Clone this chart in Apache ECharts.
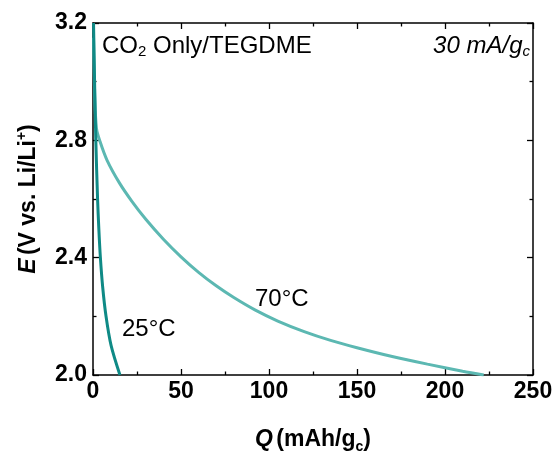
<!DOCTYPE html>
<html>
<head>
<meta charset="utf-8">
<script src="https://cdn.jsdelivr.net/npm/echarts@6/dist/echarts.min.js"></script>
<style>
  html, body { margin: 0; padding: 0; background: #fff; }
  #chart { width: 556px; height: 452px; }
</style>
</head>
<body>
<div id="chart"></div>
<script>
// 数据
const q25 = [0.3, 0.9, 1.6, 2.6, 3.3, 4.2, 5.5, 7.4, 10.3, 15.3];
const e25 = [3.2, 3.0, 2.8, 2.6, 2.5, 2.4, 2.3, 2.2, 2.1, 2.0];
const q70 = [0.3, 1.0, 2.0, 4.0, 8, 15, 22, 30, 40, 50, 60, 70, 80, 92, 105, 120, 135, 150, 170, 190, 210, 222];
const e70 = [3.15, 2.95, 2.84, 2.796, 2.732, 2.655, 2.593, 2.531, 2.463, 2.403, 2.35, 2.304, 2.264, 2.222, 2.184, 2.148, 2.118, 2.093, 2.063, 2.037, 2.013, 2.0];
const xTicks = [0, 50, 100, 150, 200, 250];
const yTicks = [2.0, 2.4, 2.8, 3.2];

const font = 'Liberation Sans, Arial, sans-serif';
const toPairs = (xs, ys) => xs.map((x, i) => [x, ys[i]]);

const chart = echarts.init(document.getElementById('chart'));

const axisLine = { show: true, onZero: false, lineStyle: { color: '#000', width: 1.5 } };
const tickIn = { show: true, inside: true, length: 6, lineStyle: { color: '#000', width: 1.3 } };
const minorIn = { show: true, splitNumber: 2, length: 3.5, lineStyle: { color: '#000', width: 1.3 } };

chart.setOption({
  animation: false,
  grid: { left: 93, right: 23, top: 23, bottom: 77, outerBoundsMode: 'none' },
  xAxis: [
    {
      type: 'value', min: xTicks[0], max: xTicks[xTicks.length - 1], interval: 50,
      axisLine, axisTick: tickIn, minorTick: minorIn, splitLine: { show: false },
      axisLabel: { color: '#000', fontFamily: font, fontWeight: 'bold', fontSize: 23, margin: 5 },
      name: '{i|Q} {b|(mAh/g}{s|c}{b|)}',
      nameLocation: 'middle', nameGap: 51,
      nameTextStyle: {
        rich: {
          i: { fontFamily: font, fontWeight: 'bold', fontStyle: 'italic', fontSize: 23, color: '#000', lineHeight: 28 },
          b: { fontFamily: font, fontWeight: 'bold', fontSize: 23, color: '#000', lineHeight: 28 },
          s: { fontFamily: font, fontWeight: 'bold', fontSize: 14, color: '#000', lineHeight: 14, verticalAlign: 'bottom' }
        }
      }
    },
    {
      type: 'value', position: 'top', min: 0, max: 250, interval: 50,
      axisLine, axisTick: tickIn, minorTick: minorIn, splitLine: { show: false },
      axisLabel: { show: false }
    }
  ],
  yAxis: [
    {
      type: 'value', min: yTicks[0], max: yTicks[yTicks.length - 1], interval: 0.4,
      axisLine, axisTick: tickIn, minorTick: minorIn, splitLine: { show: false },
      axisLabel: {
        color: '#000', fontFamily: font, fontWeight: 'bold', fontSize: 23, margin: 6,
        formatter: v => v.toFixed(1)
      },
      name: '{i|E} {b|(V vs. Li/Li}{p|+}{b|)}',
      nameLocation: 'middle', nameGap: 50, nameRotate: 90,
      nameTextStyle: {
        rich: {
          i: { fontFamily: font, fontWeight: 'bold', fontStyle: 'italic', fontSize: 23, color: '#000', lineHeight: 28 },
          b: { fontFamily: font, fontWeight: 'bold', fontSize: 23, color: '#000', lineHeight: 28 },
          p: { fontFamily: font, fontWeight: 'bold', fontSize: 14, color: '#000', lineHeight: 14, verticalAlign: 'top' }
        }
      }
    },
    {
      type: 'value', position: 'right', min: 2.0, max: 3.2, interval: 0.4,
      axisLine, axisTick: tickIn, minorTick: minorIn, splitLine: { show: false },
      axisLabel: { show: false }
    }
  ],
  series: [
    {
      name: '70°C', type: 'line', smooth: 0.3, showSymbol: false,
      lineStyle: { color: '#5cb8b2', width: 3 },
      data: toPairs(q70, e70)
    },
    {
      name: '25°C', type: 'line', smooth: 0.3, showSymbol: false,
      lineStyle: { color: '#0f8a86', width: 3 },
      data: toPairs(q25, e25)
    }
  ],
  graphic: [
    {
      type: 'text', left: 102, top: 34,
      style: {
        text: '{n|CO}{s|2}{n| Only/TEGDME}',
        rich: {
          n: { fontFamily: font, fontSize: 24, fill: '#000', lineHeight: 26 },
          s: { fontFamily: font, fontSize: 15, fill: '#000', lineHeight: 15, verticalAlign: 'bottom' }
        }
      }
    },
    {
      type: 'text', right: 26, top: 34,
      style: {
        text: '{n|30 mA/g}{s|c}',
        rich: {
          n: { fontFamily: font, fontSize: 24, fontStyle: 'italic', fill: '#000', lineHeight: 26 },
          s: { fontFamily: font, fontSize: 15, fontStyle: 'italic', fill: '#000', lineHeight: 15, verticalAlign: 'bottom' }
        }
      }
    },
    {
      type: 'text', left: 255, top: 286,
      style: { text: '70°C', fontFamily: font, fontSize: 24, lineHeight: 26, fill: '#000' }
    },
    {
      type: 'text', left: 122, top: 316,
      style: { text: '25°C', fontFamily: font, fontSize: 24, lineHeight: 26, fill: '#000' }
    }
  ]
});
</script>
</body>
</html>
